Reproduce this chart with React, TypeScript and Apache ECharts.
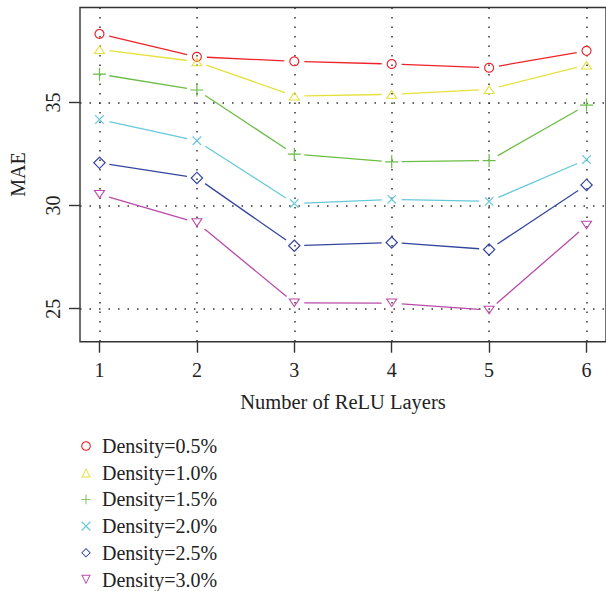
import React, { useEffect, useRef } from "react";
import * as echarts from "echarts";

// ---- data ----
const layers = [1, 2, 3, 4, 5, 6];
const seriesNames = [
  "Density=0.5%",
  "Density=1.0%",
  "Density=1.5%",
  "Density=2.0%",
  "Density=2.5%",
  "Density=3.0%",
];
const mae05 = [38.32, 37.21, 36.99, 36.86, 36.68, 37.5];
const mae10 = [37.57, 36.97, 35.31, 35.39, 35.63, 36.81];
const mae15 = [36.37, 35.6, 32.49, 32.12, 32.18, 34.87];
const mae20 = [34.17, 33.14, 30.1, 30.3, 30.2, 32.23];
const mae25 = [32.07, 31.34, 28.05, 28.21, 27.87, 31.0];
const mae30 = [30.54, 29.17, 25.28, 25.27, 24.93, 29.04];
const xTicks = [1, 2, 3, 4, 5, 6];
const yTicks = [25, 30, 35];

const allValues = [mae05, mae10, mae15, mae20, mae25, mae30];
const colors = ["#EE2228", "#E6E13A", "#6BBD45", "#66C9DA", "#34469E", "#B94AA9"];

const FONT = "'Liberation Serif', 'Times New Roman', serif";
const TXT = "#222";

// ---- marker geometry helpers (outline symbols as filled paths with holes) ----
type P = [number, number];
function pathFrom(outer: P[], inner: P[]): string {
  const f = (v: number) => v.toFixed(3);
  let s = "M" + outer.map((p) => f(p[0]) + " " + f(p[1])).join(" L") + " Z";
  if (inner.length) {
    const rev = inner.slice().reverse();
    s += " M" + rev.map((p) => f(p[0]) + " " + f(p[1])).join(" L") + " Z";
  }
  return s;
}
function bbox(pts: P[]): [number, number] {
  const xs = pts.map((p) => p[0]);
  const ys = pts.map((p) => p[1]);
  return [Math.max(...xs) - Math.min(...xs), Math.max(...ys) - Math.min(...ys)];
}
function outlineSymbol(outer: P[], inr: number, t: number) {
  const k = (inr - t) / inr;
  const inner = outer.map((p) => [p[0] * k, p[1] * k] as P);
  return { symbol: "path://" + pathFrom(outer, inner), size: bbox(outer) };
}
const STROKE = 1.15;
function circleSym(r: number) {
  const outer: P[] = [];
  for (let i = 0; i < 40; i++) {
    const a = (i / 40) * Math.PI * 2;
    outer.push([r * Math.cos(a), r * Math.sin(a)]);
  }
  return outlineSymbol(outer, r, STROKE);
}
function triSym(side: number, down: boolean) {
  const h = (side * Math.sqrt(3)) / 2;
  const s = down ? -1 : 1;
  const outer: P[] = [
    [0, (-2 * h) / 3 * s],
    [side / 2, (h / 3) * s],
    [-side / 2, (h / 3) * s],
  ];
  if (down) outer.reverse();
  return outlineSymbol(outer, h / 3, STROKE);
}
function diamondSym(hd: number) {
  const outer: P[] = [
    [0, -hd],
    [hd, 0],
    [0, hd],
    [-hd, 0],
  ];
  return outlineSymbol(outer, hd / Math.SQRT2, STROKE * 1.05);
}
function crossSym(L: number, ht: number, rot: number) {
  const base: P[] = [
    [-ht, -L], [ht, -L], [ht, -ht], [L, -ht], [L, ht], [ht, ht],
    [ht, L], [-ht, L], [-ht, ht], [-L, ht], [-L, -ht], [-ht, -ht],
  ];
  const c = Math.cos(rot);
  const sn = Math.sin(rot);
  const outer = base.map((p) => [p[0] * c - p[1] * sn, p[0] * sn + p[1] * c] as P);
  return { symbol: "path://" + pathFrom(outer, []), size: bbox(outer) };
}

const symbols = [
  circleSym(5),
  triSym(12, false),
  crossSym(6.5, 0.6, 0),
  crossSym(6, 0.6, Math.PI / 4),
  diamondSym(6.5),
  triSym(12, true),
];

const GAP = 10;

export default function App() {
  const ref = useRef<HTMLDivElement>(null);
  useEffect(() => {
    if (!ref.current) return;
    document.body.style.margin = "0";
    const chart = echarts.init(ref.current, undefined, { renderer: "svg" });

    const segSeries = allValues.map((vals, si) => ({
      type: "custom",
      name: "seg" + si,
      coordinateSystem: "cartesian2d",
      z: 2,
      silent: true,
      data: layers.map((x, i) => [x, vals[i]]),
      encode: { x: 0, y: 1 },
      renderItem: (params: any, api: any) => {
        const i = params.dataIndex;
        if (i >= layers.length - 1) return null;
        const p0 = api.coord([layers[i], vals[i]]);
        const p1 = api.coord([layers[i + 1], vals[i + 1]]);
        const dx = p1[0] - p0[0];
        const dy = p1[1] - p0[1];
        const len = Math.sqrt(dx * dx + dy * dy);
        if (len <= 2 * GAP) return null;
        const ux = dx / len;
        const uy = dy / len;
        return {
          type: "line",
          shape: {
            x1: p0[0] + ux * GAP,
            y1: p0[1] + uy * GAP,
            x2: p1[0] - ux * GAP,
            y2: p1[1] - uy * GAP,
          },
          style: { stroke: colors[si], lineWidth: 1.3 },
        };
      },
    }));

    const markSeries = allValues.map((vals, si) => ({
      type: "line",
      name: seriesNames[si],
      z: 3,
      data: layers.map((x, i) => [x, vals[i]]),
      symbol: symbols[si].symbol,
      symbolSize: symbols[si].size,
      symbolKeepAspect: true,
      showSymbol: true,
      showAllSymbol: true,
      itemStyle: { color: colors[si], borderWidth: 0 },
      lineStyle: { opacity: 0, width: 0 },
      emphasis: { disabled: true },
    }));

    chart.setOption({
      animation: false,
      backgroundColor: "#fff",
      grid: {
        left: 77,
        top: 7.5,
        right: -2.4,
        bottom: 249.3,
        show: true,
        borderColor: "#333",
        borderWidth: 1.4,
        backgroundColor: "transparent",
      },
      legend: {
        orient: "vertical",
        left: 75,
        top: 436,
        height: 160,
        padding: 0,
        itemWidth: 22,
        itemHeight: 12,
        itemGap: 6.7,
        selectedMode: false,
        data: seriesNames,
        textStyle: { fontFamily: FONT, fontSize: 20, color: TXT, lineHeight: 20 },
      },
      xAxis: {
        type: "value",
        min: 0.8,
        max: 6.2,
        name: "Number of ReLU Layers",
        nameLocation: "middle",
        nameGap: 50,
        nameTextStyle: { fontFamily: FONT, fontSize: 20.5, color: TXT },
        axisLine: { show: false },
        axisTick: {
          show: true,
          customValues: xTicks,
          length: 11,
          lineStyle: { color: "#333", width: 1.4 },
        },
        axisLabel: {
          customValues: xTicks,
          fontFamily: FONT,
          fontSize: 20,
          color: TXT,
          margin: 18,
        },
        splitLine: {
          show: true,
          lineStyle: { color: "#333", width: 1.5, type: [1.5, 8] },
        },
      },
      yAxis: {
        type: "value",
        min: 23.4,
        max: 39.6,
        name: "MAE",
        nameLocation: "middle",
        nameGap: 52,
        nameTextStyle: { fontFamily: FONT, fontSize: 20, color: TXT },
        axisLine: { show: false },
        axisTick: {
          show: true,
          customValues: yTicks,
          length: 11,
          lineStyle: { color: "#333", width: 1.4 },
        },
        axisLabel: {
          customValues: yTicks,
          rotate: 90,
          fontFamily: FONT,
          fontSize: 20,
          color: TXT,
          margin: 17,
        },
        splitLine: {
          show: true,
          lineStyle: { color: "#333", width: 1.5, type: [1.5, 8] },
        },
      },
      series: [...segSeries, ...markSeries],
    });
    return () => chart.dispose();
  }, []);
  return (
    <div
      ref={ref}
      style={{ position: "fixed", left: 0, top: 0, width: 606, height: 591 }}
    />
  );
}
